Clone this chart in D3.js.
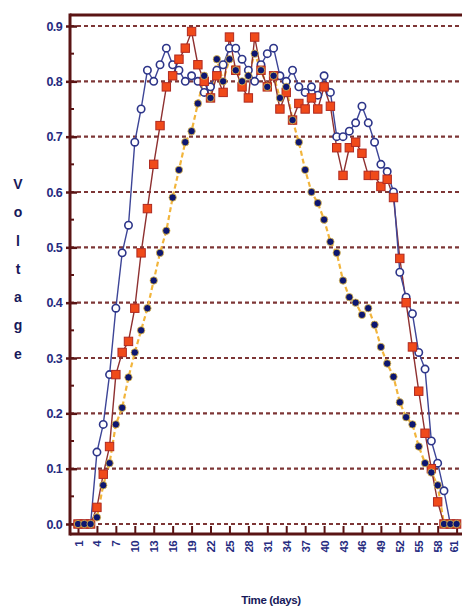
<!DOCTYPE html>
<html>
<head>
<meta charset="UTF-8">
<title>Voltage vs time</title>
<script src="https://cdn.jsdelivr.net/npm/d3@7"></script>
<style>
  body { margin: 0; background: #fff; }
  text { font-family: "Liberation Sans", Arial, sans-serif; font-weight: bold; }
</style>
</head>
<body>
<svg id="chart" width="462" height="608"></svg>
<script>
// data
var days = d3.range(1, 62);
var xTicks = [1, 4, 7, 10, 13, 16, 19, 22, 25, 28, 31, 34, 37, 40, 43, 46, 49, 52, 55, 58, 61];
var yTicks = [0, 0.1, 0.2, 0.3, 0.4, 0.5, 0.6, 0.7, 0.8, 0.9];
var titleLetters = ["V", "o", "l", "t", "a", "g", "e"];

// open circles (blue)
var openCircle = [0, 0, 0, 0.13, 0.18, 0.27, 0.39, 0.49, 0.54, 0.69,
  0.75, 0.82, 0.80, 0.83, 0.86, 0.83, 0.82, 0.80, 0.81, 0.80,
  0.78, 0.79, 0.82, 0.83, 0.86, 0.86, 0.84, 0.82, 0.80, 0.83,
  0.85, 0.86, 0.81, 0.80, 0.82, 0.79, 0.78, 0.79, 0.775, 0.81,
  0.78, 0.70, 0.70, 0.71, 0.725, 0.755, 0.725, 0.69, 0.65, 0.637,
  0.60, 0.455, 0.41, 0.38, 0.31, 0.28, 0.15, 0.11, 0.06, 0,
  0];
// red squares
var redSquare = [0, 0, 0, 0.03, 0.09, 0.14, 0.27, 0.31, 0.33, 0.39,
  0.49, 0.57, 0.65, 0.72, 0.79, 0.81, 0.84, 0.86, 0.89, 0.83,
  0.80, 0.77, 0.81, 0.78, 0.88, 0.82, 0.79, 0.77, 0.88, 0.82,
  0.79, 0.81, 0.75, 0.78, 0.73, 0.76, 0.75, 0.77, 0.75, 0.79,
  0.755, 0.68, 0.63, 0.68, 0.69, 0.67, 0.63, 0.63, 0.61, 0.623,
  0.59, 0.48, 0.40, 0.32, 0.24, 0.164, 0.10, 0.04, 0, 0,
  0];
// navy dots on dashed line
var navyDot = [0, 0, 0, 0.012, 0.07, 0.11, 0.18, 0.21, 0.265, 0.31,
  0.35, 0.39, 0.44, 0.49, 0.53, 0.59, 0.64, 0.69, 0.71, 0.76,
  0.81, 0.77, 0.84, 0.80, 0.84, 0.82, 0.80, 0.81, 0.85, 0.82,
  0.79, 0.81, 0.77, 0.79, 0.73, 0.69, 0.64, 0.60, 0.58, 0.55,
  0.51, 0.49, 0.44, 0.41, 0.40, 0.378, 0.39, 0.36, 0.32, 0.29,
  0.266, 0.22, 0.193, 0.18, 0.14, 0.11, 0.093, 0.07, 0, 0,
  0];

var svg = d3.select("#chart");
var axisColor = "#5a1414";
var labelColor = "#262b80";

var x = d3.scaleLinear().domain([1, 61]).range([78, 456.6]);
var y = d3.scaleLinear().domain([0, 0.9]).range([524, 26]);

var axisLeftX = 70, axisBottomY = 534, topY = 15;

// grid lines
svg.append("g").selectAll("line")
  .data(yTicks)
  .enter().append("line")
  .attr("x1", axisLeftX).attr("x2", 462)
  .attr("y1", function (d) { return y(d); })
  .attr("y2", function (d) { return y(d); })
  .style("stroke", "#7d3636")
  .style("stroke-width", 2.2)
  .style("stroke-dasharray", "4,3");

// y axis
var yAxis = svg.append("g")
  .attr("transform", "translate(" + axisLeftX + ",0)")
  .call(d3.axisLeft(y).tickValues(yTicks).tickFormat(d3.format(".1f")).tickSize(4).tickPadding(4));
yAxis.select(".domain").remove();
yAxis.selectAll("line").attr("x1", 7).style("stroke", axisColor).style("stroke-width", 2.5);
yAxis.selectAll("text").style("fill", labelColor).style("font-size", "12.5px").style("letter-spacing", "-0.6px");

// minor y ticks
svg.append("g").selectAll("line")
  .data(yTicks.slice(0, -1))
  .enter().append("line")
  .attr("x1", axisLeftX).attr("x2", axisLeftX + 4)
  .attr("y1", function (d) { return y(d + 0.05); })
  .attr("y2", function (d) { return y(d + 0.05); })
  .style("stroke", axisColor).style("stroke-width", 2);

// x axis
var xAxis = svg.append("g")
  .attr("transform", "translate(0," + axisBottomY + ")")
  .call(d3.axisBottom(x).tickValues(xTicks).tickSize(-8));
xAxis.select(".domain").remove();
xAxis.selectAll("line").style("stroke", axisColor).style("stroke-width", 2);
xAxis.selectAll("text")
  .attr("transform", "rotate(-90)")
  .attr("x", -7).attr("y", 0)
  .attr("dy", function (d) { return d === 61 ? "0.1em" : "0.35em"; })
  .style("text-anchor", "end")
  .style("fill", labelColor).style("font-size", "11.5px").style("letter-spacing", "-0.6px");

// frame lines
svg.append("line").attr("x1", axisLeftX).attr("x2", 462).attr("y1", topY).attr("y2", topY)
  .style("stroke", axisColor).style("stroke-width", 3);
svg.append("line").attr("x1", axisLeftX).attr("x2", axisLeftX).attr("y1", topY - 1.5).attr("y2", axisBottomY + 1.5)
  .style("stroke", axisColor).style("stroke-width", 3);
svg.append("line").attr("x1", axisLeftX).attr("x2", 462).attr("y1", axisBottomY).attr("y2", axisBottomY)
  .style("stroke", axisColor).style("stroke-width", 3);

// axis titles
svg.append("g").selectAll("text")
  .data(titleLetters)
  .enter().append("text")
  .attr("x", 18)
  .attr("y", function (d, i) { return 184 + i * 28.3; })
  .attr("dy", "0.35em")
  .style("text-anchor", "middle")
  .style("font-size", "14px")
  .style("fill", "#17195a")
  .text(function (d) { return d; });

svg.append("text")
  .attr("x", 271).attr("y", 600).attr("dy", "0.35em")
  .style("text-anchor", "middle")
  .style("font-size", "11.5px")
  .style("letter-spacing", "-0.4px")
  .style("fill", "#17195a")
  .text("Time (days)");

// lines
function pts(values) {
  return values.map(function (v, i) { return [days[i], v]; });
}
var line = d3.line()
  .x(function (d) { return x(d[0]); })
  .y(function (d) { return y(d[1]); });

svg.append("path").datum(pts(navyDot)).attr("d", line)
  .style("fill", "none").style("stroke", "#f2b53c").style("stroke-width", 2.2)
  .style("stroke-dasharray", "5,3");
svg.append("path").datum(pts(redSquare)).attr("d", line)
  .style("fill", "none").style("stroke", "#8e3030").style("stroke-width", 1.4);
svg.append("path").datum(pts(openCircle)).attr("d", line)
  .style("fill", "none").style("stroke", "#3d4597").style("stroke-width", 1.4);

// markers
svg.append("g").selectAll("circle")
  .data(pts(openCircle))
  .enter().append("circle")
  .attr("cx", function (d) { return x(d[0]); })
  .attr("cy", function (d) { return y(d[1]); })
  .attr("r", 3.7)
  .style("fill", "#fff").style("stroke", "#2d3589").style("stroke-width", 1.6);

svg.append("g").selectAll("rect")
  .data(pts(redSquare))
  .enter().append("rect")
  .attr("x", function (d) { return x(d[0]) - 4.2; })
  .attr("y", function (d) { return y(d[1]) - 4.2; })
  .attr("width", 8.4).attr("height", 8.4)
  .style("fill", "#f04a1a").style("stroke", "#b02a20").style("stroke-width", 1);

svg.append("g").selectAll("circle")
  .data(pts(navyDot))
  .enter().append("circle")
  .attr("cx", function (d) { return x(d[0]); })
  .attr("cy", function (d) { return y(d[1]); })
  .attr("r", 3.7)
  .style("fill", "#0d1670").style("stroke", "#e9c24a").style("stroke-width", 0.8);
</script>
</body>
</html>
